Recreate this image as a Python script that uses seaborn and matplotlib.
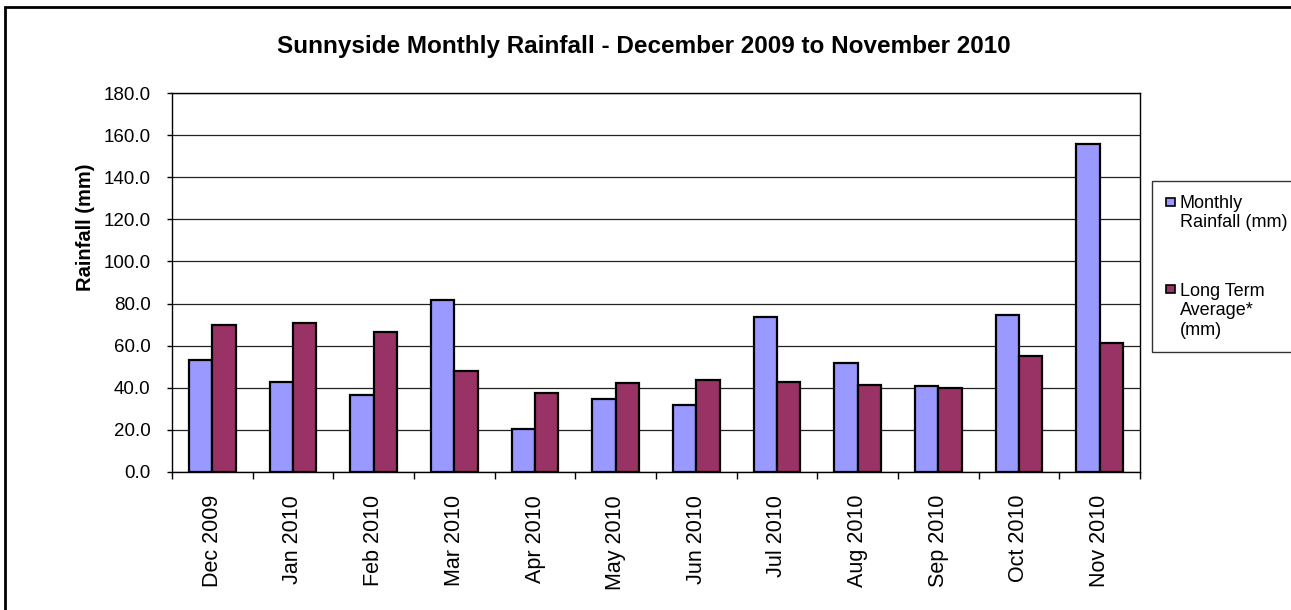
import numpy as np
import pandas as pd
import matplotlib
matplotlib.use("Agg")
import matplotlib.pyplot as plt
import seaborn as sns
from matplotlib.patches import Rectangle, Patch
from matplotlib.legend_handler import HandlerPatch
from matplotlib.ticker import FixedLocator

months = ['Dec 2009', 'Jan 2010', 'Feb 2010', 'Mar 2010', 'Apr 2010', 'May 2010',
          'Jun 2010', 'Jul 2010', 'Aug 2010', 'Sep 2010', 'Oct 2010', 'Nov 2010']
monthly_rainfall = [53.3, 42.9, 36.4, 81.8, 20.4, 34.5, 31.8, 73.6, 51.8, 40.8, 74.6, 155.9]
long_term_avg = [69.7, 70.9, 66.3, 48.0, 37.5, 42.3, 43.7, 42.6, 41.2, 39.7, 55.2, 61.3]
series = ['Monthly\nRainfall (mm)', 'Long Term\nAverage*\n(mm)']
colors = ['#9999FF', '#993366']
yticks = [0, 20, 40, 60, 80, 100, 120, 140, 160, 180]

df = pd.DataFrame({
    'Month': months * 2,
    'Series': [series[0]] * len(months) + [series[1]] * len(months),
    'Rainfall': monthly_rainfall + long_term_avg,
})

sns.set_style('white')
plt.rcParams['font.family'] = ['Liberation Sans', 'DejaVu Sans']
plt.rcParams.update({'text.color': 'black', 'axes.labelcolor': 'black',
                     'xtick.color': 'black', 'ytick.color': 'black'})

W, H = 1291, 610
fig = plt.figure(figsize=(W / 100, H / 100), dpi=100)
ax = fig.add_axes([172 / W, 1 - 472 / H, (1140 - 172) / W, (472 - 93) / H])

sns.barplot(data=df, x='Month', y='Rainfall', hue='Series', palette=colors,
            saturation=1, width=0.575, edgecolor='black', linewidth=1.6,
            errorbar=None, legend=False, ax=ax)

# axes, grid and ticks
ax.set_ylim(0, 180)
ax.set_yticks(yticks)
ax.set_yticklabels([f'{v:.1f}' for v in yticks])
ax.yaxis.grid(True, color='#222222', linewidth=0.9)
ax.set_axisbelow(True)
for s in ax.spines.values():
    s.set_visible(True)
    s.set_color('black')
    s.set_linewidth(1)

ax.xaxis.set_minor_locator(FixedLocator(np.arange(-0.5, len(months), 1)))
ax.tick_params(axis='x', which='major', bottom=True, length=0, pad=16.5,
               labelsize=15.5, labelrotation=90)
ax.tick_params(axis='x', which='minor', bottom=True, length=5, width=1,
               color='black', direction='out')
ax.tick_params(axis='y', left=True, length=3.6, width=1, color='black',
               direction='out', pad=11.7, labelsize=13.5)

ax.set_xlabel('')
ax.set_ylabel('Rainfall (mm)', fontsize=14.5, fontweight='bold')
ax.yaxis.set_label_coords(-0.0795, 0.646)

fig.text(643.5 / W, 1 - 46 / H, 'Sunnyside Monthly Rainfall - December 2009 to November 2010',
         ha='center', va='center', fontsize=17.5, fontweight='bold')

# outer chart frame (only left and top edges fall inside the image)
fig.add_artist(Rectangle((5 / W, -0.5), 2, 1 - 7 / H + 0.5, transform=fig.transFigure,
                         fill=False, edgecolor='black', linewidth=2, clip_on=False))

# legend with square markers aligned to the first line of each label
handles = [Patch(facecolor=c, edgecolor='black', linewidth=1.2, label=s)
           for c, s in zip(colors, series)]


def make_square(shift):
    def f(legend, orig_handle, xdescent, ydescent, width, height, fontsize):
        w, h = 0.55 * fontsize, 0.45 * fontsize
        return Rectangle((-xdescent, -ydescent + height / 2 - h / 2 + shift * fontsize), w, h)
    return f


handler_map = {handles[0]: HandlerPatch(patch_func=make_square(0.6)),
               handles[1]: HandlerPatch(patch_func=make_square(1.2))}
leg = fig.legend(handles=handles, handler_map=handler_map, loc='upper left',
                 bbox_to_anchor=(1152 / W, 1 - 181 / H), bbox_transform=fig.transFigure,
                 fontsize=13, frameon=True, fancybox=False, edgecolor='black',
                 borderpad=0.75, handlelength=0.6, handleheight=0.7, handletextpad=0.2,
                 labelspacing=2.85, borderaxespad=0)
leg.get_frame().set_linewidth(1)

fig.savefig('out.png', dpi=100)
